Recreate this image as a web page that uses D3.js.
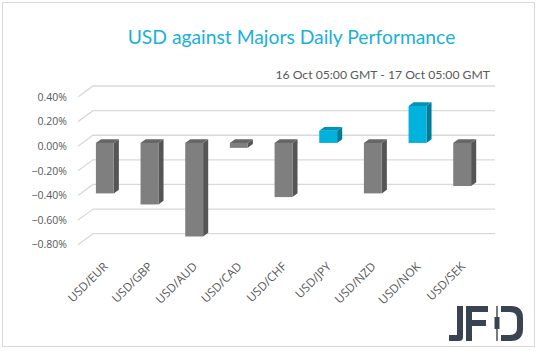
<!DOCTYPE html>
<html>
<head>
<meta charset="utf-8">
<script src="https://cdn.jsdelivr.net/npm/d3@7"></script>
<style>
  body { margin: 0; background: #fff; }
  svg { display: block; }
</style>
</head>
<body>
<div id="chart"></div>
<script>
// data
const pairs = ["USD/EUR", "USD/GBP", "USD/AUD", "USD/CAD", "USD/CHF", "USD/JPY", "USD/NZD", "USD/NOK", "USD/SEK"];
const changes = [-0.41, -0.50, -0.76, -0.04, -0.44, 0.10, -0.41, 0.30, -0.35];
const yTicks = [0.4, 0.2, 0, -0.2, -0.4, -0.6, -0.8];

const width = 538, height = 351;

// front plane of the 3d box, back wall is shifted by depth
const front = { left: 78, right: 480 };
const depth = { dx: 15, dy: -11 };
const barDepth = { from: 0.3, to: 0.64 };

const svg = d3.select("#chart").append("svg")
    .attr("width", width)
    .attr("height", height);

// outer frame
svg.append("rect")
    .attr("x", 2.5).attr("y", 2.5)
    .attr("width", 532).attr("height", 344)
    .attr("fill", "#fff")
    .attr("stroke", "#d9d9d9")
    .attr("stroke-width", 1);

const xScale = d3.scaleBand()
    .domain(pairs)
    .range([front.left, front.right])
    .paddingInner(0.6)
    .paddingOuter(0.3);

const yScale = d3.scaleLinear()
    .domain([-0.8, 0.4])
    .range([244.7, 97]);

// titles
svg.append("text")
    .attr("x", 291.5).attr("y", 44)
    .attr("text-anchor", "middle")
    .style("font-family", "Lato, 'Open Sans', sans-serif")
    .style("font-size", "19.3px")
    .attr("fill", "#1ab0da")
    .text("USD against Majors Daily Performance");

svg.append("text")
    .attr("x", 490).attr("y", 79)
    .attr("text-anchor", "end")
    .style("font-family", "Lato, 'Open Sans', sans-serif")
    .style("font-size", "12.2px")
    .attr("fill", "#595959")
    .text("16 Oct 05:00 GMT - 17 Oct 05:00 GMT");

// gridlines: left wall diagonal + back wall line
const grid = svg.append("g").attr("class", "grid");
grid.selectAll("path")
    .data(yTicks)
    .join("path")
    .attr("d", d => {
        const yf = yScale(d);
        const yb = yf + depth.dy;
        return `M${front.left},${yf}L${front.left + depth.dx},${yb}L${front.right + depth.dx},${yb}`;
    })
    .attr("fill", "none")
    .attr("stroke", "#d9d9d9")
    .attr("stroke-width", 1.3);

// y labels
svg.append("g")
    .selectAll("text")
    .data(yTicks)
    .join("text")
    .attr("x", 67)
    .attr("y", d => yScale(d))
    .attr("dy", "0.35em")
    .attr("text-anchor", "end")
    .style("font-family", "'Open Sans', sans-serif")
    .style("font-size", "10.5px")
    .attr("fill", "#595959")
    .text(d => d3.format(".2f")(d) + "%");

// bars
const colors = {
    neg: { front: "#7f7f7f", top: "#666666", side: "#555555" },
    pos: { front: "#00b2dc", top: "#0093b5", side: "#007c99" }
};

const ox = depth.dx * barDepth.from, oy = depth.dy * barDepth.from;
const bx = depth.dx * (barDepth.to - barDepth.from), by = depth.dy * (barDepth.to - barDepth.from);

const bars = svg.append("g").attr("class", "bars")
    .selectAll("g")
    .data(pairs.map((p, i) => ({ pair: p, value: changes[i] })))
    .join("g");

function barBox(d) {
    const xl = xScale(d.pair) + ox;
    const xr = xl + xScale.bandwidth();
    const yt = Math.min(yScale(0), yScale(d.value)) + oy;
    const yb = Math.max(yScale(0), yScale(d.value)) + oy;
    return { xl, xr, yt, yb };
}

bars.append("path")
    .attr("d", d => {
        const b = barBox(d);
        return `M${b.xr},${b.yt}L${b.xr + bx},${b.yt + by}L${b.xr + bx},${b.yb + by}L${b.xr},${b.yb}Z`;
    })
    .attr("fill", d => d.value >= 0 ? colors.pos.side : colors.neg.side);

bars.append("path")
    .attr("d", d => {
        const b = barBox(d);
        return `M${b.xl},${b.yt}L${b.xl + bx},${b.yt + by}L${b.xr + bx},${b.yt + by}L${b.xr},${b.yt}Z`;
    })
    .attr("fill", d => d.value >= 0 ? colors.pos.top : colors.neg.top);

bars.append("rect")
    .attr("x", d => barBox(d).xl)
    .attr("y", d => barBox(d).yt)
    .attr("width", xScale.bandwidth())
    .attr("height", d => barBox(d).yb - barBox(d).yt)
    .attr("fill", d => d.value >= 0 ? colors.pos.front : colors.neg.front);

// x labels rotated
svg.append("g")
    .selectAll("text")
    .data(pairs)
    .join("text")
    .attr("transform", d => `translate(${xScale(d) + xScale.bandwidth() / 2 + 2},${261}) rotate(-45)`)
    .attr("text-anchor", "end")
    .attr("dy", "0.75em")
    .style("font-family", "'Open Sans', sans-serif")
    .style("font-size", "11.8px")
    .attr("fill", "#595959")
    .text(d => d);

// JFD logo
const logo = svg.append("g").attr("fill", "#3a4351");
logo.append("path")
    .attr("d", "M457,306H463V337Q463,341 459,341H449V335H457Z");
logo.append("path")
    .attr("d", "M466,306H488V312H472V320H486V326H472V341H466Z");
logo.append("rect")
    .attr("x", 496.3).attr("y", 306).attr("width", 1.4).attr("height", 35);
logo.append("rect")
    .attr("x", 494.5).attr("y", 317).attr("width", 5).attr("height", 12);
logo.append("path")
    .attr("d", "M501,306H511Q523,306 523,318V329Q523,341 511,341H501V335H510Q517,335 517,328V319Q517,312 510,312H501Z");
</script>
</body>
</html>
